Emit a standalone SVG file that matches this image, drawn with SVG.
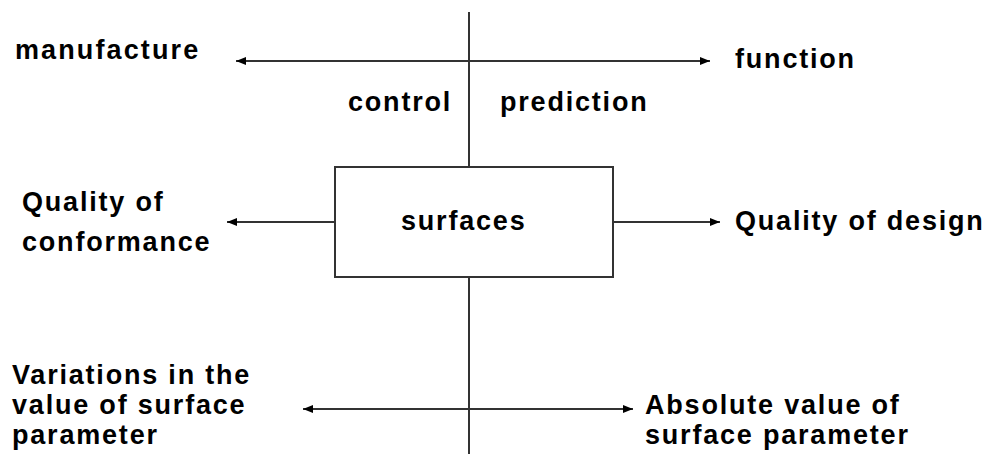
<svg xmlns="http://www.w3.org/2000/svg" width="990" height="454" viewBox="0 0 990 454">
<defs>
<style>
text{font-family:"Liberation Sans",Arial,sans-serif;font-weight:bold;font-size:27px;fill:#000;letter-spacing:1.8px}
.ln{stroke:#333;stroke-width:2;fill:none}
</style>
<marker id="ah" viewBox="0 0 10 10" refX="10" refY="5" markerWidth="10" markerHeight="10" markerUnits="userSpaceOnUse" orient="auto-start-reverse">
<path d="M0,1 L10,5 L0,9 Z" fill="#000"/>
</marker>
</defs>
<rect width="990" height="454" fill="#fff"/>
<g id="connectors">
<line class="ln" x1="469" y1="12" x2="469" y2="167"/>
<line class="ln" x1="469" y1="277" x2="469" y2="454"/>
<line class="ln" x1="236" y1="61" x2="710" y2="61" marker-start="url(#ah)" marker-end="url(#ah)"/>
<line class="ln" x1="335" y1="222" x2="227" y2="222" marker-end="url(#ah)"/>
<line class="ln" x1="613" y1="222" x2="720" y2="222" marker-end="url(#ah)"/>
<line class="ln" x1="303" y1="409" x2="633" y2="409" marker-start="url(#ah)" marker-end="url(#ah)"/>
</g>
<g id="surfaces">
<rect x="335" y="167" width="278" height="110" fill="#fff" stroke="#333" stroke-width="2"/>
<text x="401" y="230">surfaces</text>
</g>
<g id="manufacture"><text x="15" y="59" textLength="185" lengthAdjust="spacing">manufacture</text></g>
<g id="function"><text x="735" y="68">function</text></g>
<g id="control"><text x="348" y="111">control</text></g>
<g id="prediction"><text x="500" y="111">prediction</text></g>
<g id="quality-conformance"><text x="22" y="211">Quality of</text><text x="22" y="251">conformance</text></g>
<g id="quality-design"><text x="735" y="230">Quality of design</text></g>
<g id="variations"><text x="12" y="384">Variations in the</text><text x="12" y="414">value of surface</text><text x="12" y="444">parameter</text></g>
<g id="absolute"><text x="645" y="414">Absolute value of</text><text x="645" y="444">surface parameter</text></g>
</svg>
